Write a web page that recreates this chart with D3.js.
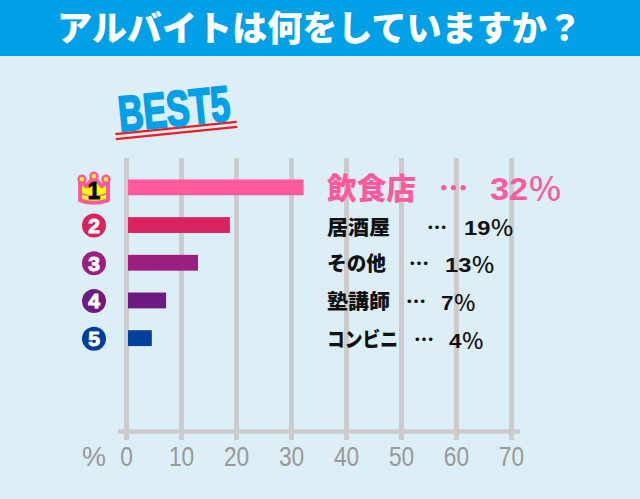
<!DOCTYPE html>
<html><head><meta charset="utf-8">
<script src="https://cdn.jsdelivr.net/npm/d3@7/dist/d3.min.js"></script>
<style>html,body{margin:0;padding:0;background:#dceef6}svg{display:block}</style></head>
<body><svg id="c" width="640" height="499"></svg>
<script>
const titleText = "アルバイトは何をしていますか？";
const categories = ["飲食店","居酒屋","その他","塾講師","コンビニ"];
const barValues = [32.2,18.8,13,7.2,4.6];
const labelNums = ["32","19","13","7","4"];
const ranks = ["1","2","3","4","5"];
const colors = ["#ff5a9b","#d8235f","#9b1f80","#6e1a82","#00409c"];
const ticks = [0,10,20,30,40,50,60,70];
const nameW = [89,63,59,63,71];
const dotX = [439,427,409,406,414];
const pctX = [490,464,445,441,449];
const pctW = [72,50,50,35,35];
const labelY = [188.5,227.5,264,302,340];
const jp = "'Noto Sans CJK JP','Liberation Sans',sans-serif";
const latin = "'Liberation Sans',sans-serif";

const svg = d3.select("#c");
svg.append("rect").attr("width",640).attr("height",499).attr("fill","#dceef6");
svg.append("rect").attr("width",640).attr("height",56).attr("fill","#00a0e6");
svg.append("text").attr("x",57).attr("y",41)
  .attr("font-family",jp).attr("font-weight",900).attr("font-size",35).attr("fill","#fff")
  .attr("textLength",525).attr("lengthAdjust","spacingAndGlyphs").text(titleText);

const x = d3.scaleLinear().domain([0,70]).range([126.5,511.5]);
const y = d3.scaleBand().domain(d3.range(5)).range([168.5,357]).paddingInner(0.58).paddingOuter(0.29);
const gy0=158, gy1=440, axisY=431.5;

// grid
svg.append("g").selectAll("line").data(ticks).join("line")
  .attr("x1",d=>x(d)).attr("x2",d=>x(d)).attr("y1",gy0).attr("y2",gy1)
  .attr("stroke","#cccccc").attr("stroke-width",5);
svg.append("line").attr("x1",118).attr("x2",520).attr("y1",axisY).attr("y2",axisY).attr("stroke","#cccccc").attr("stroke-width",4.5);
svg.append("g").selectAll("text").data(ticks).join("text")
  .attr("x",d=>x(d)).attr("y",466).attr("text-anchor","middle")
  .attr("font-family",latin).attr("font-size",28).attr("fill","#999999")
  .attr("transform",d=>`translate(${x(d)},0) scale(0.81,1) translate(${-x(d)},0)`).text(d=>d);
svg.append("text").attr("x",94).attr("y",466).attr("text-anchor","middle")
  .attr("font-family",latin).attr("font-size",27).attr("fill","#999999").text("%");

// BEST5
const best = svg.append("g").attr("transform","translate(176,128) rotate(-5.7)");
best.append("line").attr("x1",-61).attr("x2",61).attr("y1",0).attr("y2",0).attr("stroke","#ee1c25").attr("stroke-width",2.2);
best.append("line").attr("x1",-61).attr("x2",61).attr("y1",5).attr("y2",5).attr("stroke","#ee1c25").attr("stroke-width",2.2);
best.append("text").attr("x",-56).attr("y",-2)
  .attr("font-family",latin).attr("font-weight",700).attr("font-size",50)
  .attr("fill","#00a0e6").attr("stroke","#00a0e6").attr("stroke-width",2).attr("textLength",112).attr("lengthAdjust","spacingAndGlyphs").text("BEST5");

// bars
svg.append("g").selectAll("rect").data(barValues).join("rect")
  .attr("x",128).attr("y",(d,i)=>y(i)).attr("height",y.bandwidth())
  .attr("width",d=>x(d)-128).attr("fill",(d,i)=>colors[i]);

// rank badges
const cy = i=>y(i)+y.bandwidth()/2;
const crown = svg.append("g").attr("transform",`translate(94,${cy(0)})`);
crown.append("path").attr("d","M-14,13 L-14,-7 L-8,-1 L0,-10 L8,-1 L14,-7 L14,13 Q0,18 -14,13 Z")
  .attr("fill","#ffff00").attr("stroke","#ff5a9b").attr("stroke-width",4).attr("stroke-linejoin","round");
[[-12,-8],[0,-11],[12,-8]].forEach(p=>crown.append("circle").attr("cx",p[0]).attr("cy",p[1]).attr("r",3.5).attr("fill","#ffff00").attr("stroke","#ff5a9b").attr("stroke-width",2.5));
crown.append("path").attr("d","M-13,6 Q0,12 13,6").attr("fill","none").attr("stroke","#ff5a9b").attr("stroke-width",1.5);
crown.append("text").attr("y",11.5).attr("text-anchor","middle").attr("font-family",latin).attr("font-weight",700).attr("font-size",23).attr("fill","#000").attr("stroke","#000").attr("stroke-width",.8).text(ranks[0]);
d3.range(1,5).forEach(i=>{
  svg.append("circle").attr("cx",94).attr("cy",cy(i)+.5).attr("r",12).attr("fill",colors[i]);
  svg.append("text").attr("x",94).attr("y",cy(i)+8).attr("text-anchor","middle")
    .attr("font-family",latin).attr("font-weight",700).attr("font-size",21)
    .attr("fill","#fff").attr("stroke","#fff").attr("stroke-width",1).text(ranks[i]);
});

// labels
categories.forEach((c,i)=>{
  const big=i===0, col=big?"#ff5a9b":"#111", fs=big?30:20.5, yy=labelY[i]+(big?10.5:7);
  const t=g=>g.attr("y",yy).attr("font-family",jp).attr("font-weight",900).attr("fill",col);
  svg.append("text").attr("x",327).attr("font-size",fs).attr("textLength",nameW[i]).attr("lengthAdjust","spacingAndGlyphs").call(t).text(c);
  svg.append("text").attr("x",dotX[i]).attr("font-size",big?29:20).call(t).text("…");
  const p=svg.append("text").attr("x",pctX[i]).attr("y",big?labelY[i]+11:labelY[i]+7.5)
    .attr("textLength",pctW[i]).attr("lengthAdjust","spacingAndGlyphs").attr("fill",col);
  p.append("tspan").attr("font-family",latin).attr("font-weight",700).attr("font-size",big?31:21).text(labelNums[i]);
  p.append("tspan").attr("font-family",jp).attr("font-weight",500).attr("font-size",big?31:21).text("％");
});
</script></body></html>
